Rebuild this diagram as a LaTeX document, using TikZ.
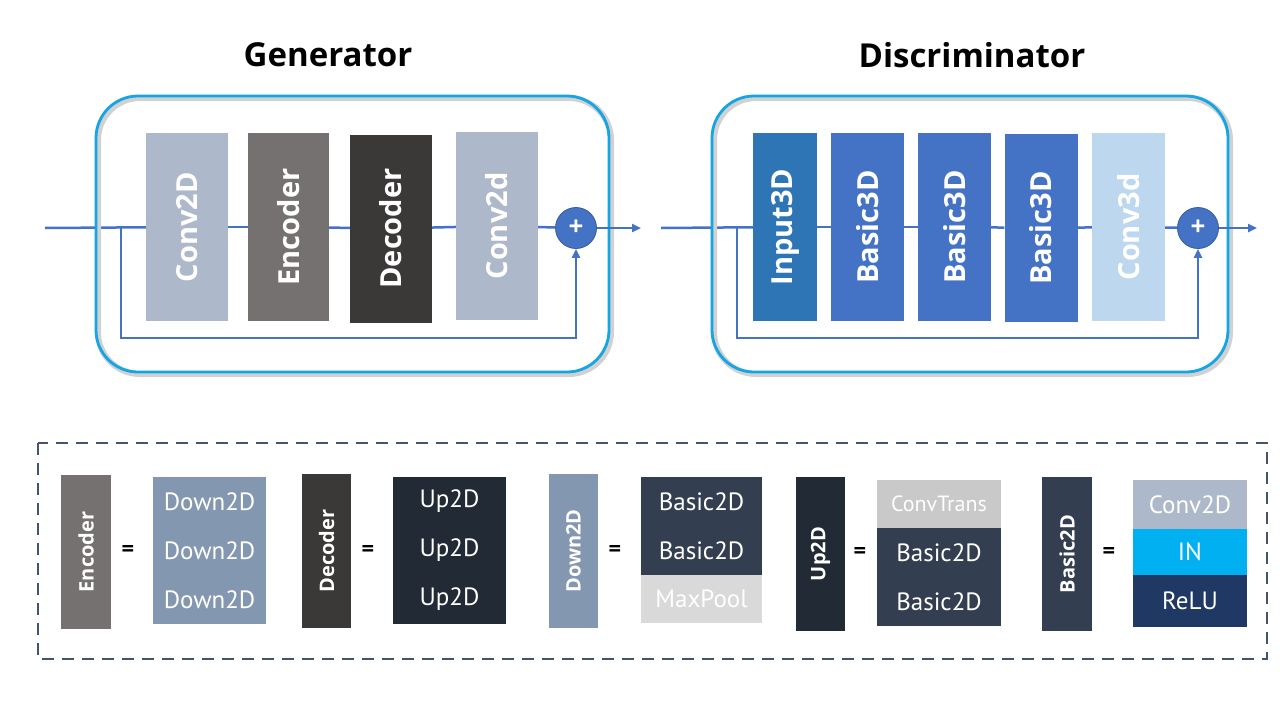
\documentclass[tikz,border=0pt]{standalone}
\usepackage{fontspec}
\usepackage{graphicx}
\setmainfont{Open Sans}
\newfontfamily\ptsans{PT Sans}
\usetikzlibrary{arrows.meta,backgrounds}
\definecolor{lineblue}{HTML}{4472C4}
\definecolor{frameblue}{HTML}{14A5E4}
\definecolor{cgray}{HTML}{ADB9CA}
\definecolor{encgray}{HTML}{767171}
\definecolor{decgray}{HTML}{3B3838}
\definecolor{inblue}{HTML}{2E75B6}
\definecolor{basicblue}{HTML}{4472C4}
\definecolor{lightblue}{HTML}{BDD7EE}
\definecolor{downblue}{HTML}{8497B0}
\definecolor{upnavy}{HTML}{222A35}
\definecolor{basicnavy}{HTML}{333F50}
\definecolor{poolgray}{HTML}{D9D9D9}
\definecolor{transgray}{HTML}{C9C9C9}
\definecolor{incyan}{HTML}{00B0F0}
\definecolor{relunavy}{HTML}{1F3864}
\definecolor{dashcol}{HTML}{44546A}
\tikzset{
  blk/.style={inner sep=0pt, text=white, font=\bfseries\fontsize{29}{34}\selectfont},
  sblk/.style={inner sep=0pt, text=white, font=\bfseries\fontsize{20}{24}\selectfont},
  row/.style={inner sep=0pt, text=white, minimum height=49pt, font=\ptsans\fontsize{25}{28}\selectfont},
  eqs/.style={inner sep=0pt, font=\bfseries\fontsize{22}{26}\selectfont},
  plus/.style={circle, fill=lineblue, draw=lineblue!80!black, line width=0.8pt, minimum size=41pt, inner sep=0pt, text=white, font=\bfseries\fontsize{26}{30}\selectfont},
  conn/.style={draw=lineblue, line width=2.5pt},
  arr/.style={conn, -{Triangle[length=9pt,width=8pt]}},
  frame/.style={draw=frameblue, line width=2.8pt, rounded corners=42pt},
  shadow/.style={draw=black!18, line width=6pt, rounded corners=42pt},
  title/.style={font=\bfseries\fontsize{33}{40}\selectfont}
}
\begin{document}
\begin{tikzpicture}[x=1pt,y=-1pt]
\useasboundingbox (0,0) rectangle (1280,720);

% titles
\node[title] (tgen) at (328,55) {Generator};
\node[title] (tdis) at (972,55) {Discriminator};

% frames
\draw[shadow] (98,98) rectangle (611,374);
\draw[frame] (96,96) rectangle (609,372);
\draw[shadow] (714,98) rectangle (1230,374);
\draw[frame] (712,96) rectangle (1228,372);

% generator blocks
\node[blk, fill=cgray, minimum width=82pt, minimum height=188pt] (gc1) at (187,227) {\rotatebox{90}{Conv2D}};
\node[blk, fill=encgray, minimum width=81pt, minimum height=188pt] (genc) at (288.5,227) {\rotatebox{90}{Encoder}};
\node[blk, fill=decgray, minimum width=82pt, minimum height=188pt] (gdec) at (391,228.5) {\rotatebox{90}{Decoder}};
\node[blk, fill=cgray, minimum width=82pt, minimum height=188pt] (gc2) at (497,226) {\rotatebox{90}{Conv2d}};
\node[plus] (gplus) at (576,228) {+};
\coordinate (gin) at (45,228);
\coordinate (gout) at (641,228);
\coordinate (gsk) at (121,228);
\coordinate (gbot) at (121,338);

% discriminator blocks
\node[blk, fill=inblue, minimum width=64pt, minimum height=188pt] (din) at (785,227) {\rotatebox{90}{Input3D}};
\node[blk, fill=basicblue, minimum width=73pt, minimum height=188pt] (db1) at (867.5,227) {\rotatebox{90}{Basic3D}};
\node[blk, fill=basicblue, minimum width=73pt, minimum height=188pt] (db2) at (954.5,227) {\rotatebox{90}{Basic3D}};
\node[blk, fill=basicblue, minimum width=73pt, minimum height=188pt] (db3) at (1041,228) {\rotatebox{90}{Basic3D}};
\node[blk, fill=lightblue, minimum width=73pt, minimum height=188pt] (dc3) at (1128.5,227) {\rotatebox{90}{Conv3d}};
\node[plus] (dplus) at (1198,228) {+};
\coordinate (din0) at (661,228);
\coordinate (dout) at (1257,228);
\coordinate (dsk) at (737,228);
\coordinate (dbot) at (737,338);

\begin{scope}[on background layer]
  \fill[white] (0,0) rectangle (1280,720);
  \draw[conn] (gin) -- (gc1);
  \draw[conn] (gc1) -- (genc);
  \draw[conn] (genc) -- (gdec);
  \draw[conn] (gdec) -- (gc2);
  \draw[conn] (gc2) -- (gplus);
  \draw[conn] (din0) -- (din);
  \draw[conn] (din) -- (db1);
  \draw[conn] (db1) -- (db2);
  \draw[conn] (db2) -- (db3);
  \draw[conn] (db3) -- (dc3);
  \draw[conn] (dc3) -- (dplus);
\end{scope}
\draw[arr] (gplus) -- (gout);
\draw[arr] (dplus) -- (dout);
\draw[arr] (gsk) -- (gbot) -| (gplus.south);
\draw[arr] (dsk) -- (dbot) -| (dplus.south);

% legend frame
\draw[draw=dashcol, line width=2.4pt, dash pattern=on 12pt off 8pt] (38,443) rectangle (1267,659);

% encoder
\node[sblk, fill=encgray, minimum width=50pt, minimum height=154pt] (lenc) at (86,552) {\rotatebox{90}{Encoder}};
\node[eqs] (eq1) at (128,551) {=};
\node[row, fill=downblue, minimum width=113pt] (e1) at (209.5,501.5) {Down2D};
\node[row, fill=downblue, minimum width=113pt] (e2) at (209.5,550.5) {Down2D};
\node[row, fill=downblue, minimum width=113pt] (e3) at (209.5,599.5) {Down2D};

% decoder
\node[sblk, fill=decgray, minimum width=49pt, minimum height=154pt] (ldec) at (326.5,551) {\rotatebox{90}{Decoder}};
\node[eqs] (eq2) at (368,551) {=};
\node[row, fill=upnavy, minimum width=113pt] (d1) at (449.5,501.5) {Up2D};
\node[row, fill=upnavy, minimum width=113pt] (d2) at (449.5,550.5) {Up2D};
\node[row, fill=upnavy, minimum width=113pt] (d3) at (449.5,599.5) {Up2D};

% down2d
\node[sblk, fill=downblue, minimum width=49pt, minimum height=154pt] (ldown) at (573.5,551) {\rotatebox{90}{Down2D}};
\node[eqs] (eq3) at (615,551) {=};
\node[row, fill=basicnavy, minimum width=121pt] (w1) at (701.5,501.5) {Basic2D};
\node[row, fill=basicnavy, minimum width=121pt] (w2) at (701.5,550.5) {Basic2D};
\node[row, fill=poolgray, minimum width=121pt, minimum height=48pt] (w3) at (701.5,599) {MaxPool};

% up2d
\node[sblk, fill=upnavy, minimum width=49pt, minimum height=154pt] (lup) at (820.5,554) {\rotatebox{90}{Up2D}};
\node[eqs] (eq4) at (860,553) {=};
\node[row, fill=transgray, minimum width=124pt, minimum height=48pt, font=\ptsans\fontsize{22}{26}\selectfont] (u1) at (939,504) {ConvTrans};
\node[row, fill=basicnavy, minimum width=124pt] (u2) at (939,552.5) {Basic2D};
\node[row, fill=basicnavy, minimum width=124pt] (u3) at (939,601.5) {Basic2D};

% basic2d
\node[sblk, fill=basicnavy, minimum width=50pt, minimum height=154pt] (lbas) at (1067,554) {\rotatebox{90}{Basic2D}};
\node[eqs] (eq5) at (1109,553) {=};
\node[row, fill=cgray, minimum width=114pt] (b1) at (1190,504.5) {Conv2D};
\node[row, fill=incyan, minimum width=114pt, minimum height=46pt] (b2) at (1190,552) {IN};
\node[row, fill=relunavy, minimum width=114pt, minimum height=52pt] (b3) at (1190,601) {ReLU};
\end{tikzpicture}
\end{document}
